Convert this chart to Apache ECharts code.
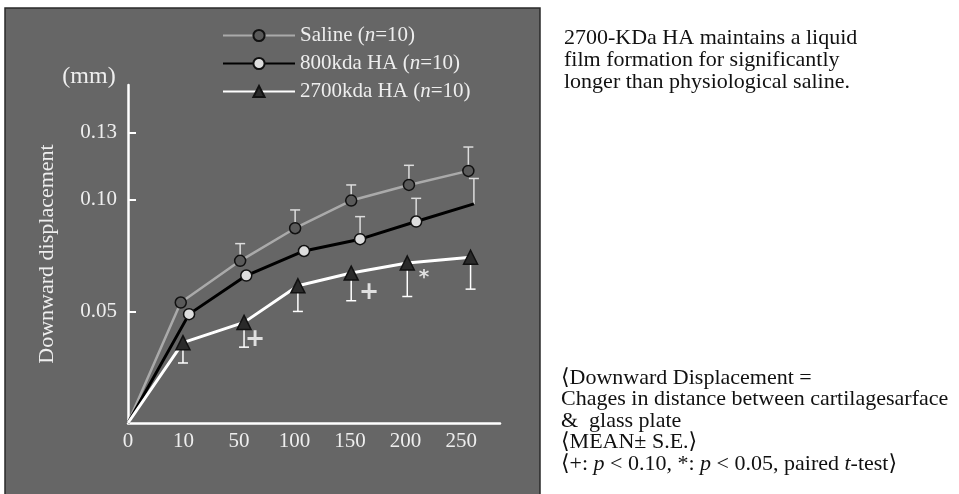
<!DOCTYPE html>
<html>
<head>
<meta charset="utf-8">
<script src="https://cdn.jsdelivr.net/npm/echarts@6/dist/echarts.min.js"></script>
<style>
  html, body { margin: 0; padding: 0; background: #fff; }
  #chart { width: 959px; height: 494px; }
</style>
</head>
<body>
<div id="chart"></div>
<script>
// time points (tick labels), one slot per index on the x axis
var xLabels = ['0', '10', '50', '100', '150', '200', '250']

// points are drawn a little apart from each other in the original, so each series keeps its own x
var salineX = [0, 0.95, 2.02, 3.01, 4.02, 5.06, 6.13]
var salineY = [0, 0.054, 0.0727, 0.0873, 0.0997, 0.1067, 0.113]
var salineSE = [0, 0, 0.0077, 0.0082, 0.007, 0.0088, 0.0107]   // drawn upward

var ha800X = [0, 1.1, 2.13, 3.17, 4.18, 5.19, 6.23]
var ha800Y = [0, 0.0488, 0.0661, 0.0771, 0.0824, 0.0903, 0.0982]
var ha800SE = [0, 0, 0, 0, 0.0101, 0.0104, 0.0114]             // drawn upward

var ha2700X = [0, 0.99, 2.09, 3.06, 4.02, 5.03, 6.17]
var ha2700Y = [0, 0.036, 0.0451, 0.0615, 0.0672, 0.0717, 0.0743]
var ha2700SE = [0, 0.0091, 0.0111, 0.0115, 0.0124, 0.015, 0.0143] // drawn downward

var yTicks = [0.05, 0.10, 0.13]

// significance marks: [x, y, text]
var marks = [[2.29, 0.0373, '+'], [4.34, 0.0585, '+'], [5.33, 0.0675, '*']]

var serif = '"Liberation Serif", "DejaVu Serif", serif'

function pairs(xs, ys, noSymbol) {
  return xs.map(function (x, i) {
    var d = { value: [x, ys[i]] }
    if (noSymbol.indexOf(i) >= 0) d.symbol = 'none'
    return d
  })
}

function bars(xs, ys, se, dir) {
  var out = []
  xs.forEach(function (x, i) {
    if (se[i] > 0) out.push([x, ys[i], ys[i] + dir * se[i]])
  })
  return out
}

function errorBar(color) {
  return function (params, api) {
    var p0 = api.coord([api.value(0), api.value(1)])
    var p1 = api.coord([api.value(0), api.value(2)])
    var s = { stroke: color, lineWidth: 1.5 }
    return {
      type: 'group',
      children: [
        { type: 'line', shape: { x1: p0[0], y1: p0[1], x2: p1[0], y2: p1[1] }, style: s },
        { type: 'line', shape: { x1: p1[0] - 5, y1: p1[1], x2: p1[0] + 5, y2: p1[1] }, style: s }
      ]
    }
  }
}

var chart = echarts.init(document.getElementById('chart'))

var option = {
  animation: false,
  grid: { left: 128, right: 459, top: 85, bottom: 71 },
  graphic: [
    { type: 'rect', z: -10, shape: { x: 5, y: 8, width: 535, height: 492 },
      style: { fill: '#666666', stroke: '#2a2a2a', lineWidth: 1.5 } },
    { type: 'text', x: 89, y: 77, style: { text: '(mm)', fill: '#eeeeee', font: '24px ' + serif, align: 'center', verticalAlign: 'middle' } },
    { type: 'text', x: 564, y: 27, style: {
        text: '2700-KDa HA maintains a liquid\nfilm formation for significantly\nlonger than physiological saline.',
        fill: '#111', font: '22px ' + serif, lineHeight: 22, verticalAlign: 'top' } },
    { type: 'text', x: 561, y: 367, style: {
        text: '\u27e8Downward Displacement =\nChages in distance between cartilagesarface\n&  glass plate\n\u27e8MEAN\u00b1 S.E.\u27e9\n\u27e8{n|+: }{i|p}{n| < 0.10, *: }{i|p}{n| < 0.05, paired }{i|t}{n|-test\u27e9}',
        fill: '#111', font: '22px ' + serif, lineHeight: 21.5, verticalAlign: 'top',
        rich: {
          n: { font: '22px ' + serif, fill: '#111' },
          i: { font: 'italic 22px ' + serif, fill: '#111' }
        } } }
  ],
  legend: {
    left: 217, top: 20, orient: 'vertical',
    itemWidth: 72, itemHeight: 14, itemGap: 7,
    textStyle: {
      color: '#eeeeee', fontSize: 21, fontFamily: serif,
      rich: { i: { fontStyle: 'italic', fontSize: 21, fontFamily: serif, color: '#eeeeee' } }
    },
    formatter: function (name) { return name + ' ({i|n}=10)' },
    data: ['Saline', '800kda HA', '2700kda HA']
  },
  xAxis: {
    type: 'value', min: 0, max: 6.7,
    splitLine: { show: false },
    axisLine: { lineStyle: { color: '#ffffff', width: 2.5 } },
    axisTick: { show: false },
    axisLabel: {
      customValues: [0, 1, 2, 3, 4, 5, 6],
      formatter: function (v) { return xLabels[Math.round(v)] },
      color: '#eeeeee', fontSize: 21, fontFamily: serif, margin: 8
    }
  },
  yAxis: {
    type: 'value', min: 0, max: 0.1515,
    name: 'Downward displacement', nameLocation: 'middle', nameGap: 70, nameRotate: 90,
    nameTextStyle: { color: '#eeeeee', fontSize: 22, fontFamily: serif },
    splitLine: { show: false },
    axisLine: { lineStyle: { color: '#ffffff', width: 2.5 } },
    axisTick: { customValues: yTicks, inside: true, length: 8, lineStyle: { color: '#ffffff', width: 2 } },
    axisLabel: {
      customValues: yTicks,
      formatter: function (v) { return v.toFixed(2) },
      color: '#eeeeee', fontSize: 21, fontFamily: serif, margin: 11
    }
  },
  series: [
    { type: 'custom', name: 'se-saline', renderItem: errorBar('#dddddd'), data: bars(salineX, salineY, salineSE, 1), z: 1, silent: true },
    { type: 'custom', name: 'se-800', renderItem: errorBar('#dddddd'), data: bars(ha800X, ha800Y, ha800SE, 1), z: 1, silent: true },
    { type: 'custom', name: 'se-2700', renderItem: errorBar('#ffffff'), data: bars(ha2700X, ha2700Y, ha2700SE, -1), z: 1, silent: true },
    {
      type: 'line', name: 'Saline', data: pairs(salineX, salineY, [0]), z: 3,
      symbol: 'circle', symbolSize: 11,
      lineStyle: { color: '#aaaaaa', width: 2.5 },
      itemStyle: { color: '#5a5a5a', borderColor: '#111', borderWidth: 1.5 }
    },
    {
      type: 'line', name: '800kda HA', data: pairs(ha800X, ha800Y, [0, 6]), z: 4,
      symbol: 'circle', symbolSize: 11,
      lineStyle: { color: '#000000', width: 3 },
      itemStyle: { color: '#dddddd', borderColor: '#111', borderWidth: 1.5 }
    },
    {
      type: 'line', name: '2700kda HA', data: pairs(ha2700X, ha2700Y, [0]), z: 5,
      symbol: 'triangle', symbolSize: 14,
      lineStyle: { color: '#ffffff', width: 3 },
      itemStyle: { color: '#2a2a2a', borderColor: '#111', borderWidth: 1.5 }
    },
    {
      type: 'scatter', name: 'marks', symbol: 'circle', symbolSize: 1, z: 6, silent: true,
      itemStyle: { color: 'rgba(0,0,0,0)' },
      data: marks.map(function (m) {
        var d = { value: [m[0], m[1]], name: m[2] }
        // the asterisk glyph sits high in its box
        if (m[2] === '*') d.label = { fontSize: 20, offset: [0, 5] }
        return d
      }),
      label: {
        show: true, position: 'inside', formatter: '{b}',
        color: '#ffffff', fontSize: 24, fontWeight: 'bold', fontFamily: '"DejaVu Sans", sans-serif'
      }
    }
  ]
}

chart.setOption(option)
</script>
</body>
</html>
